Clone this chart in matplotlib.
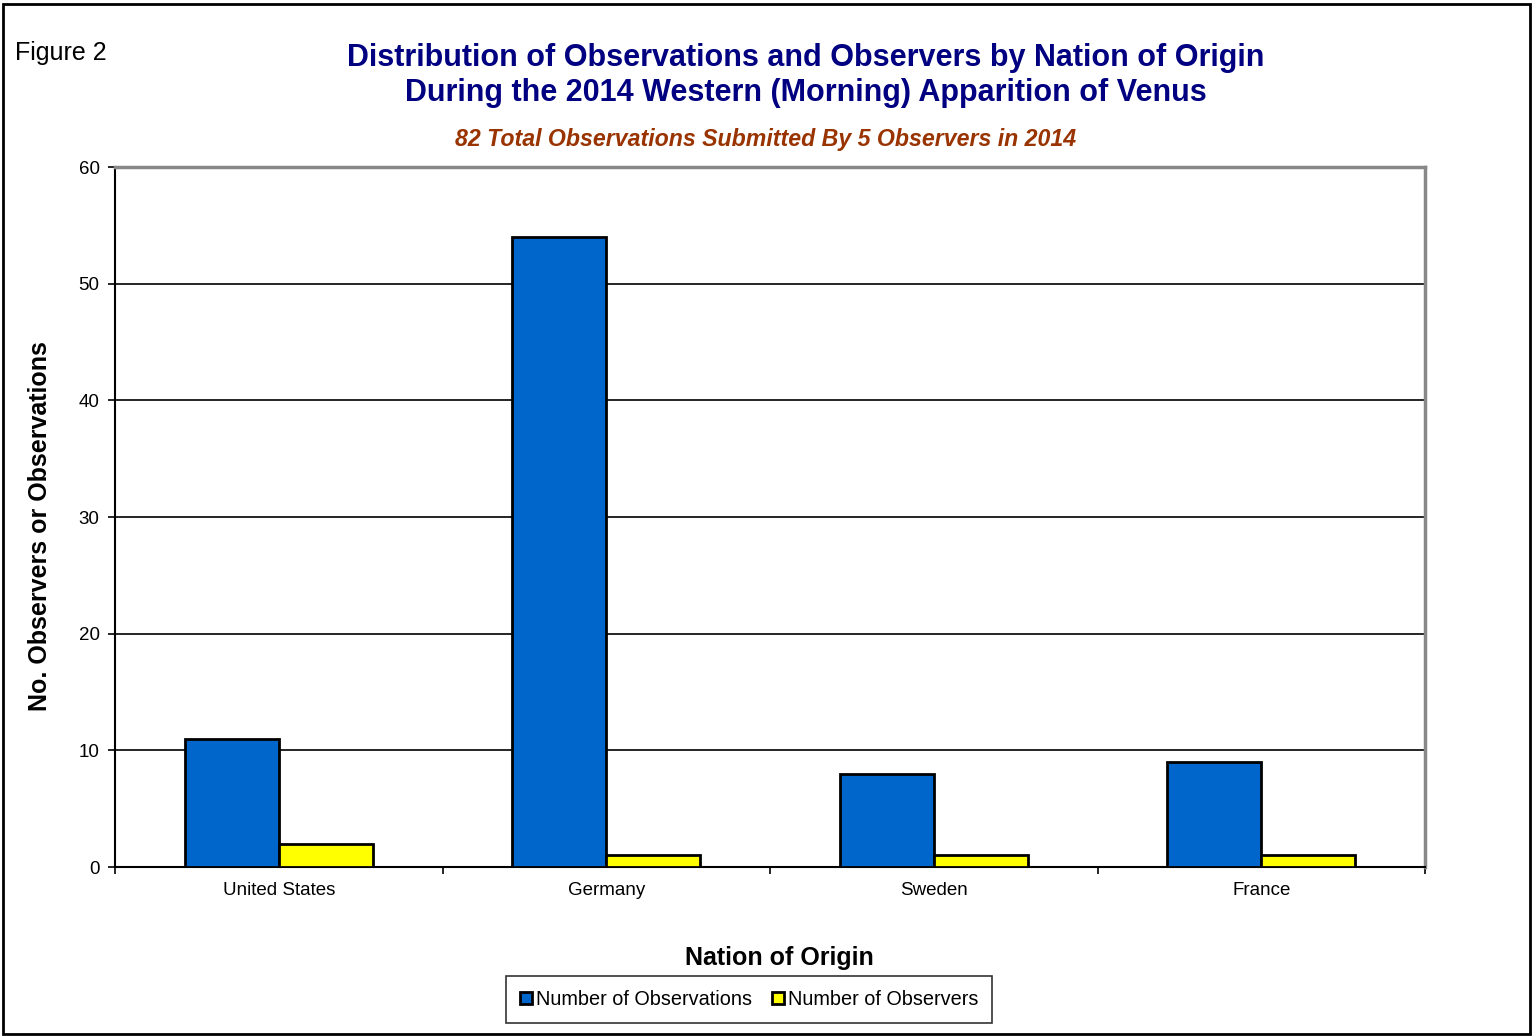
import matplotlib.pyplot as plt
import numpy as np
from matplotlib.patches import Rectangle

plt.rcParams['font.family'] = ['Liberation Sans', 'DejaVu Sans']

# data
nations = ["United States", "Germany", "Sweden", "France"]
observations = [11, 54, 8, 9]
observers = [2, 1, 1, 1]

fig = plt.figure(figsize=(15.33, 10.36), dpi=100)
ax = fig.add_axes([0.075, 0.1631, 0.8546, 0.6757])

x = np.arange(len(nations))
w = 0.287
ax.bar(x - w / 2, observations, width=w, color="#0066CC", edgecolor="black",
       linewidth=2, label="Number of Observations", zorder=3)
ax.bar(x + w / 2, observers, width=w, color="#FFFF00", edgecolor="black",
       linewidth=2, label="Number of Observers", zorder=3)

ax.set_xlim(-0.5, len(nations) - 0.5)
ax.set_ylim(0, 60)
ax.set_yticks(range(0, 61, 10))
ax.set_xticks(x)
ax.set_xticklabels(nations, fontsize=13.5)
ax.set_xticks(np.arange(-0.5, len(nations)), minor=True)
ax.tick_params(axis='x', which='major', length=0, pad=11)
ax.tick_params(axis='x', which='minor', length=5, width=1.2, direction='out')
ax.tick_params(axis='y', length=5, width=1.2, labelsize=13.5, pad=6)
ax.yaxis.grid(True, color="black", linewidth=1.2, zorder=0)
ax.set_axisbelow(True)

ax.spines['left'].set_linewidth(1.5)
ax.spines['bottom'].set_linewidth(1.5)
ax.spines['top'].set_color("#888888")
ax.spines['right'].set_color("#888888")
ax.spines['top'].set_linewidth(2.5)
ax.spines['right'].set_linewidth(2.5)

fig.text(0.026, 0.492, "No. Observers or Observations", fontsize=18, fontweight='bold',
         rotation=90, ha='center', va='center')
fig.text(0.5085, 0.0753, "Nation of Origin", fontsize=18, fontweight='bold',
         ha='center', va='center')

fig.text(0.5254, 0.927, "Distribution of Observations and Observers by Nation of Origin\n"
         "During the 2014 Western (Morning) Apparition of Venus",
         fontsize=22, fontweight='bold', color="#000080", ha='center', va='center',
         linespacing=1.2)
fig.text(0.4997, 0.8658, "82 Total Observations Submitted By 5 Observers in 2014",
         fontsize=16.7, fontweight='bold', style='italic', color="#993300",
         ha='center', va='center')
fig.text(0.01, 0.949, "Figure 2", fontsize=18, ha='left', va='center')

leg = fig.legend(loc='center', bbox_to_anchor=(0.4886, 0.0352), ncol=2,
                 fontsize=14.3, frameon=True, fancybox=False, handlelength=0.6,
                 handleheight=0.6, handletextpad=0.2, columnspacing=1.0,
                 borderpad=0.7)
leg.get_frame().set_edgecolor("black")
leg.get_frame().set_linewidth(1.2)

fig.patches.append(Rectangle((0.002, 0.002), 0.996, 0.994, transform=fig.transFigure,
                             fill=False, edgecolor="black", linewidth=2))

fig.savefig("out.png", dpi=100)
